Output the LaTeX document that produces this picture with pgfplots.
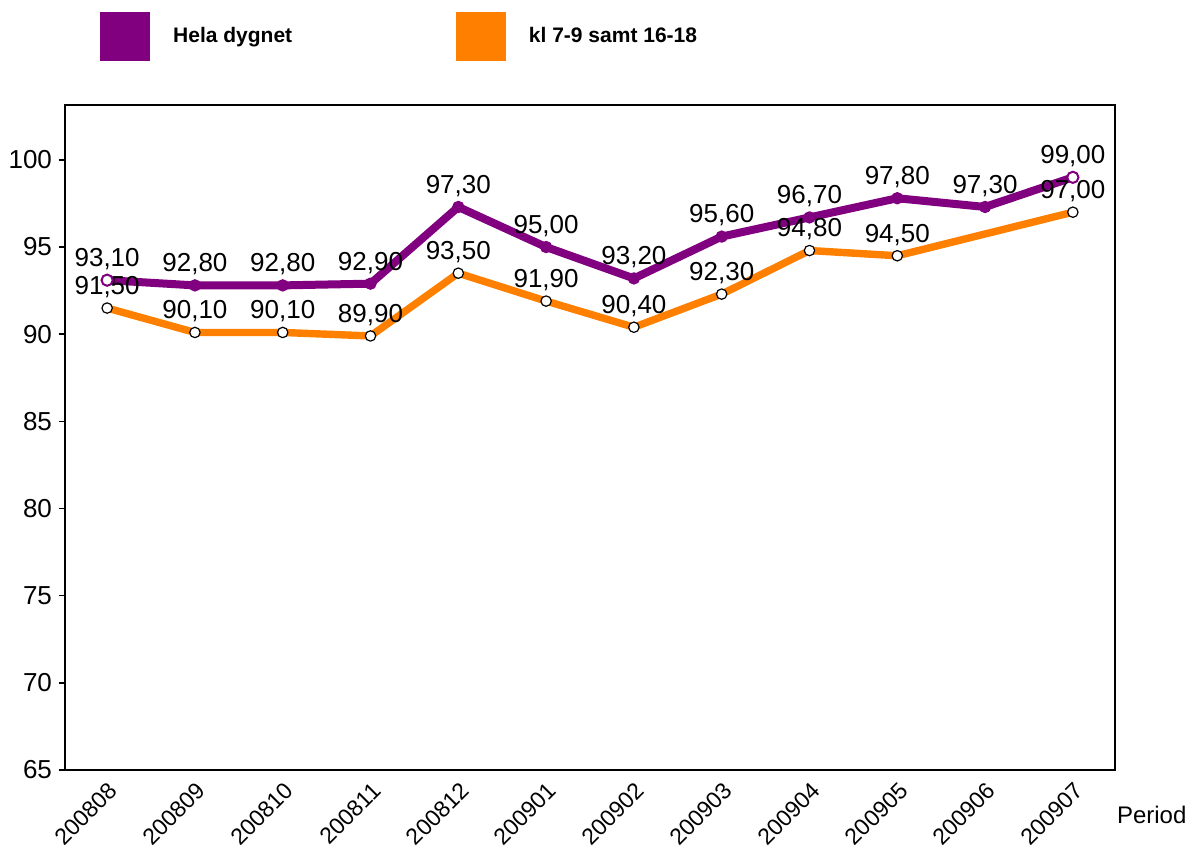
\documentclass[border=0pt]{standalone}
\usepackage{fontspec}
\setmainfont{Liberation Sans}
\usepackage{pgfplots}
\pgfplotsset{compat=1.18}
\definecolor{hdpurple}{HTML}{800080}
\definecolor{klorange}{HTML}{FF8000}
\begin{document}
\begin{tikzpicture}
\useasboundingbox (-32.5pt,-40pt) rectangle (562pt,385pt);
\begin{axis}[
  at={(0,0)}, anchor=south west,
  scale only axis, width=525pt, height=332.5pt,
  xmin=-0.48, xmax=11.48, ymin=65, ymax=103.15,
  xtick={0,...,11},
  xticklabels={200808,200809,200810,200811,200812,200901,200902,200903,200904,200905,200906,200907},
  ytick={65,70,...,100},
  /pgf/number format/assume math mode=true,
  yticklabel style={font=\fontsize{13}{15}\selectfont},
  xticklabel style={font=\fontsize{11.5}{13}\selectfont, rotate=45, anchor=east, xshift=2pt, yshift=-6pt},
  x tick style={draw=none},
  y tick style={black, line width=0.8pt},
  tick align=outside, tickpos=left,
  major tick length=3pt,
  axis line style={line width=1pt},
  xlabel=Period,
  xlabel style={at={(axis description cs:1.035,-0.068)}, anchor=center, font=\fontsize{12}{14}\selectfont},
  point meta=y,
  legend style={at={(axis description cs:0.0276,1.1038)}, anchor=west, draw=none, fill=none,
    font=\fontsize{10.5}{12}\selectfont\bfseries, legend columns=2},
  legend cell align=left,
]
\addlegendimage{legend image code/.code={\fill[hdpurple] (0pt,-12pt) rectangle (24.5pt,12pt);}}
\addlegendentry{\hspace{9.5pt}\makebox[139.5pt][l]{Hela dygnet}}
\addlegendimage{legend image code/.code={\fill[klorange] (0pt,-12pt) rectangle (24.5pt,12pt);}}
\addlegendentry{\hspace{9.5pt}kl 7-9 samt 16-18}

\addplot[klorange, line width=3.7pt, line join=round,
  mark=*, mark size=2.6pt, mark options={fill=white, draw=black, line width=0.6pt},
  nodes near coords={\pgfmathprintnumber[fixed, fixed zerofill, precision=2, use comma]{\pgfplotspointmeta}},
  every node near coord/.append style={font=\fontsize{13}{15}\selectfont, black, yshift=1.5pt}]
  coordinates {(0,91.5) (1,90.1) (2,90.1) (3,89.9) (4,93.5) (5,91.9) (6,90.4) (7,92.3) (8,94.8) (9,94.5) (11,97.0)};

\addplot[hdpurple, line width=4pt, line join=round,
  mark=*, mark size=2.8pt, mark options={fill=hdpurple, draw=hdpurple, line width=0.6pt},
  nodes near coords={\pgfmathprintnumber[fixed, fixed zerofill, precision=2, use comma]{\pgfplotspointmeta}},
  every node near coord/.append style={font=\fontsize{13}{15}\selectfont, black, yshift=1.5pt}]
  coordinates {(0,93.1) (1,92.8) (2,92.8) (3,92.9) (4,97.3) (5,95.0) (6,93.2) (7,95.6) (8,96.7) (9,97.8) (10,97.3) (11,99.0)};

\addplot[only marks, mark=*, mark size=2.8pt, mark options={fill=white, draw=hdpurple, line width=1pt}, forget plot]
  coordinates {(0,93.1) (11,99.0)};
\end{axis}
\end{tikzpicture}
\end{document}
